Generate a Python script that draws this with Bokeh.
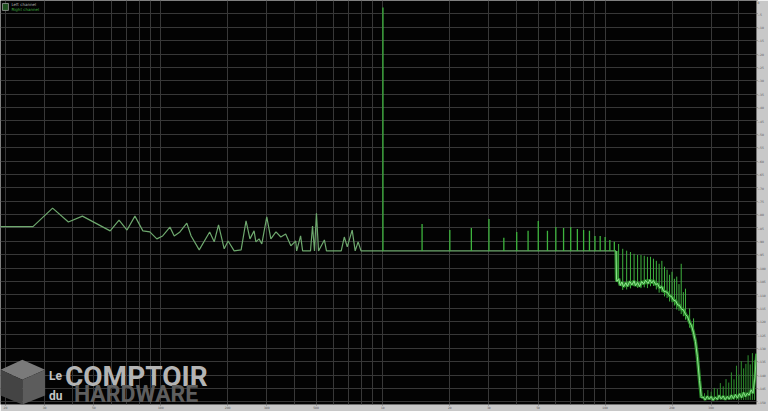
from bokeh.plotting import figure
from bokeh.models import FixedTicker, CustomJSTickFormatter, Range1d
from bokeh.core.properties import value
from bokeh.embed import file_html
from bokeh.resources import INLINE

# ---------------- data ----------------
# low-frequency part of the spectrum (Hz, dB)
lf_hz = [19, 26.6, 32.6, 38.4, 44.4, 59.2, 64.9, 70.5, 76.5, 83.1, 89.3, 96, 102, 110, 115,
         122, 131, 137, 149, 166, 174, 182, 193, 201, 214, 230, 242, 252, 263, 268, 277,
         285, 300, 313, 330, 347, 365, 385, 405, 409, 426, 435, 472, 482, 492, 502, 513,
         545, 557, 649, 670, 691, 727, 750, 773, 797, 11200]
lf_db = [-84.5, -84.5, -77.6, -82.8, -80.6, -86.1, -82.1, -85.8, -80.6, -86.1, -86.5, -89.1,
         -88.0, -84.7, -88.0, -86.5, -83.2, -88.0, -93.2, -86.5, -90.2, -83.9, -92.8, -89.9,
         -93.6, -93.2, -82.4, -89.1, -86.1, -90.2, -89.1, -91.0, -80.9, -89.1, -86.5, -88.4,
         -87.3, -91.7, -89.9, -93.6, -88.0, -93.6, -93.6, -84.3, -93.6, -79.5, -93.6, -89.5,
         -93.6, -93.6, -88.4, -92.1, -85.8, -93.6, -90.2, -93.6, -93.6]

# fundamental and harmonic lines (Hz, dB), drawn from the noise floor
harm_hz = [1000, 1500, 2000, 2500, 3000, 3500, 4000, 4500, 5000, 5500, 6000, 6500, 7000,
           7500, 8000, 8500, 9000, 9500, 10000, 10500, 11000]
harm_db = [-2.6, -83.5, -85.8, -85.0, -81.7, -88.7, -86.5, -86.1, -82.4, -86.1, -84.7, -85.0,
           -84.7, -85.4, -85.8, -86.1, -88.0, -88.0, -88.4, -89.5, -90.2]
harm_floor_db = -93.6

# raised noise band and roll-off
band_hz = [11200, 11250, 11300, 11500, 11700, 11900, 12100, 12400, 12600, 12900, 13200, 13500,
           13700, 14000, 14300, 14600, 14900, 15200, 15600, 15900, 16200, 16500, 16900, 17200,
           17600, 18000, 18300, 18700, 19100, 19500, 19900, 20300, 20800, 21200, 21600, 22100,
           22500, 23000, 23500, 24000, 24500, 25000, 25500, 26000, 26600, 27100]
band_db = [-93.6, -104.2, -105.0, -104.0, -106.5, -105.2, -107.0, -105.5, -106.8, -105.0, -106.3,
           -104.8, -106.6, -105.4, -106.9, -105.0, -106.0, -104.6, -105.8, -104.4, -105.6, -104.7,
           -106.2, -105.8, -107.4, -107.0, -108.6, -108.8, -109.2, -110.4, -110.6, -112.0, -112.3,
           -113.8, -113.9, -115.4, -115.6, -117.3, -118.2, -120.3, -121.6, -124.2, -127.5, -133.0,
           -142.0, -148.5]

band_spike_hz = [11500, 12000, 12500, 13000, 13500, 14000, 14500, 15000, 15500, 16000, 16500,
                 17000, 17500, 18000, 18500, 19000, 19500, 20000, 20500, 21000, 21500, 22000,
                 22500, 23000, 24000, 25000]
band_spike_db = [-91.0, -92.8, -93.5, -94.0, -94.7, -95.1, -95.1, -95.4, -95.8, -95.8, -96.5,
                 -97.3, -98.4, -97.3, -99.5, -100.6, -102.5, -101.4, -104.0, -103.2, -106.0,
                 -98.4, -109.0, -107.7, -115.1, -118.8]
band_spike_base_db = [-106.0, -108.2, -108.0, -107.6, -106.8, -107.4, -107.5, -107.2, -107.5,
                      -106.8, -106.7, -108.0, -109.2, -109.0, -110.6, -111.2, -112.5, -112.8,
                      -114.0, -115.5, -116.0, -117.2, -118.0, -119.3, -122.3, -126.2]

# floor above the roll-off
hf_hz = [27100, 27600, 28200, 28800, 29400, 30000, 30600, 31300, 32000, 32600, 33300, 34000,
         34700, 35500, 36200, 37000, 37800, 38600, 39400, 40200, 41100, 42000, 42800, 43600,
         44500, 45400, 46300, 47200, 48000]
hf_db = [-148.5, -148.2, -149.3, -147.9, -149.0, -148.0, -149.4, -148.3, -149.1, -147.6, -148.9,
         -147.8, -149.2, -148.0, -149.0, -147.5, -148.8, -147.3, -148.6, -147.0, -148.4, -146.5,
         -148.0, -146.8, -147.5, -145.5, -146.8, -141.0, -132.0]

hf_spike_hz = [28000, 29000, 30000, 31000, 32000, 33000, 34000, 35000, 36000, 37000, 38000,
               39000, 40000, 41000, 42000, 43000, 44000, 45000, 46000, 47000]
hf_spike_db = [-146.8, -145.6, -146.2, -144.8, -145.2, -143.0, -144.2, -141.5, -142.8, -139.0,
               -141.6, -136.5, -139.8, -134.8, -137.5, -135.8, -132.6, -136.0, -131.8, -134.5]
hf_spike_base_db = -149.3

# axis ticks / labels
freq_label_ticks = [20, 30, 50, 100, 200, 300, 500, 1000, 2000, 3000, 5000, 10000, 20000, 30000]
freq_grid_ticks = [n * 10 ** k for k in range(1, 5) for n in range(1, 10) if 19 <= n * 10 ** k <= 48000]
db_ticks = list(range(0, -155, -5))
legend_names = ["Left channel", "Right channel"]

# ---------------- figure ----------------
F_MIN, F_MAX = 19, 48000
DB_MIN, DB_MAX = -151, 0
REF_W, REF_H = 762.0, 407.0


def fx(px):
    return F_MIN * (F_MAX / F_MIN) ** (px / REF_W)


def fy(py):
    return DB_MAX + (DB_MIN - DB_MAX) * py / REF_H


p = figure(width=768, height=411, x_axis_type="log",
           x_range=Range1d(F_MIN, F_MAX), y_range=Range1d(DB_MIN, DB_MAX),
           y_axis_location="right", output_backend="svg", toolbar_location=None,
           background_fill_color="#030303", border_fill_color="#c8c8c8",
           min_border_left=0, min_border_top=0, min_border_right=0, min_border_bottom=0,
           outline_line_color=None)

grid_col = "#383838"
p.xaxis.ticker = FixedTicker(ticks=freq_label_ticks, minor_ticks=freq_grid_ticks)
p.xgrid.ticker = FixedTicker(ticks=freq_grid_ticks)
p.xaxis.formatter = CustomJSTickFormatter(
    code="return tick >= 1000 ? (tick/1000) + 'k' : String(tick);")
p.yaxis.ticker = FixedTicker(ticks=db_ticks)
p.ygrid.ticker = FixedTicker(ticks=db_ticks)
p.xgrid.grid_line_color = grid_col
p.ygrid.grid_line_color = grid_col

for ax in (p.xaxis, p.yaxis):
    ax.axis_line_color = None
    ax.major_tick_line_color = "#7a7a7a"
    ax.major_tick_out = 1
    ax.major_tick_in = 0
    ax.minor_tick_line_color = None
    ax.minor_tick_out = 0
    ax.minor_tick_in = 0
    ax.major_label_text_font_size = "3px"
    ax.major_label_text_color = "#555555"
    ax.major_label_standoff = 0
    ax.axis_label_standoff = 0
    ax.major_label_text_font = "DejaVu Sans"

# ---------------- logo watermark ----------------
cube_top = ([fx(0), fx(22), fx(45), fx(22)], [fy(372), fy(362), fy(372), fy(382)])
cube_left = ([fx(0), fx(22), fx(22), fx(0)], [fy(372), fy(382), fy(407), fy(398)])
cube_right = ([fx(22), fx(45), fx(45), fx(22)], [fy(382), fy(372), fy(398), fy(407)])
p.patches(xs=[cube_top[0], cube_left[0], cube_right[0]],
          ys=[cube_top[1], cube_left[1], cube_right[1]],
          fill_color=["#7a7a7a", "#444444", "#5c5c5c"], line_color=None)
p.text(x=[fx(49)], y=[fy(378)], text=["Le"], text_font=value("Roboto"),
       text_font_style="bold", text_font_size="12px", text_color="#c4c4c4",
       text_baseline="middle")
p.text(x=[fx(49)], y=[fy(398)], text=["du"], text_font=value("Roboto"),
       text_font_style="bold", text_font_size="12px", text_color="#c4c4c4",
       text_baseline="middle")
p.text(x=[fx(65)], y=[fy(379)], text=["COMPTOIR"], text_font=value("Roboto"),
       text_font_style="bold", text_font_size="28px", text_color="#b4b4b4",
       text_baseline="middle")
p.text(x=[fx(74)], y=[fy(397)], text=["HARDWARE"], text_font=value("Roboto"),
       text_font_style="bold", text_font_size="23px", text_color="#5e5e5e",
       text_baseline="middle")

# ---------------- spectrum ----------------
p.line(lf_hz, lf_db, line_color="#6ea86e", line_width=1.2)
p.segment(x0=harm_hz, y0=[harm_floor_db] * len(harm_hz), x1=harm_hz, y1=harm_db,
          line_color="#3db43d", line_width=1.3)

p.segment(x0=band_spike_hz, y0=band_spike_base_db, x1=band_spike_hz, y1=band_spike_db,
          line_color="#3fb23f", line_width=1.0)
p.segment(x0=hf_spike_hz, y0=[hf_spike_base_db] * len(hf_spike_hz), x1=hf_spike_hz,
          y1=hf_spike_db, line_color="#2f8f2f", line_width=1.0)

p.line(band_hz, band_db, line_color="#2c962c", line_width=3.4, line_alpha=0.9)
p.line(band_hz, band_db, line_color="#93e693", line_width=1.0)
p.line(hf_hz, hf_db, line_color="#2c962c", line_width=2.8, line_alpha=0.9)
p.line(hf_hz, hf_db, line_color="#8fe08f", line_width=0.9)

# ---------------- legend (top-left) ----------------
p.quad(left=[fx(2)], right=[fx(8)], top=[fy(3)], bottom=[fy(10)],
       fill_color="#1e4f1e", line_color="#9a9a9a", line_width=0.8)
p.text(x=[fx(11), fx(11)], y=[fy(4.5), fy(9.5)], text=legend_names,
       text_font=value("DejaVu Sans"), text_font_size="4px",
       text_color=["#b4b4b4", "#3fb23f"], text_baseline="middle")

open("out.html", "w").write(file_html(p, INLINE))
